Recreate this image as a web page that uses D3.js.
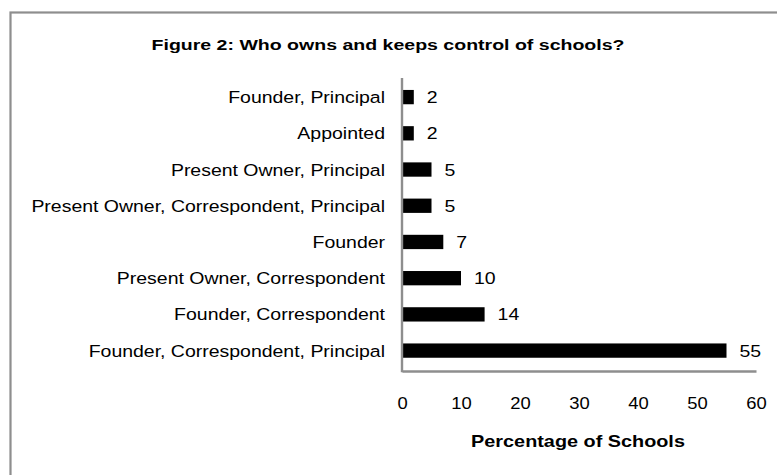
<!DOCTYPE html>
<html>
<head>
<meta charset="utf-8">
<script src="https://cdn.jsdelivr.net/npm/d3@7"></script>
<style>
  html, body { margin: 0; padding: 0; background: #fff; }
  svg text { font-family: "Liberation Sans", Arial, sans-serif; fill: #000; }
</style>
</head>
<body>
<svg id="chart" width="777" height="475"></svg>
<script>
// data, top to bottom
const categories = [
  'Founder, Principal',
  'Appointed',
  'Present Owner, Principal',
  'Present Owner, Correspondent, Principal',
  'Founder',
  'Present Owner, Correspondent',
  'Founder, Correspondent',
  'Founder, Correspondent, Principal'
];
const values = [2, 2, 5, 5, 7, 10, 14, 55];
const xTicks = [0, 10, 20, 30, 40, 50, 60];

const titleText = 'Figure 2: Who owns and keeps control of schools?';
const xTitle = 'Percentage of Schools';

// the source font is a stretched Arial, so text gets a horizontal scale
const stretch = 1.195;
const grey = '#8e8e8e';

const margin = { top: 78, right: 21, bottom: 104, left: 402 };
const svg = d3.select('#chart');
const width = +svg.attr('width');
const height = +svg.attr('height');
const axisY = height - margin.bottom;

// outer frame
svg.append('rect')
  .attr('x', 10.5)
  .attr('y', 12.5)
  .attr('width', width)
  .attr('height', height)
  .attr('fill', 'none')
  .attr('stroke', grey)
  .attr('stroke-width', 2.2);

const x = d3.scaleLinear()
  .domain([0, 60])
  .range([margin.left, width - margin.right]);

const y = d3.scaleBand()
  .domain(categories)
  .range([margin.top, axisY - 1.3])
  .paddingInner(0.605)
  .paddingOuter(0.33);

// bars
svg.append('g')
  .attr('fill', '#000')
  .selectAll('rect')
  .data(values)
  .enter().append('rect')
  .attr('x', x(0) + 1)
  .attr('y', (d, i) => y(categories[i]))
  .attr('width', d => x(d) - x(0) - 1)
  .attr('height', y.bandwidth());

// value labels
svg.append('g')
  .selectAll('text')
  .data(values)
  .enter().append('text')
  .attr('transform', (d, i) =>
    `translate(${x(d) + 13},${y(categories[i]) + y.bandwidth() / 2}) scale(${stretch},1)`)
  .attr('dy', '0.37em')
  .style('font-size', '16.3px')
  .text(d => d);

// category labels
svg.append('g')
  .selectAll('text')
  .data(categories)
  .enter().append('text')
  .attr('transform', d =>
    `translate(${margin.left - 17},${y(d) + y.bandwidth() / 2}) scale(${stretch},1)`)
  .attr('dy', '0.37em')
  .attr('text-anchor', 'end')
  .style('font-size', '16.3px')
  .text(d => d);

// x axis
const xAxis = svg.append('g')
  .attr('transform', `translate(0,${axisY})`)
  .call(d3.axisBottom(x).tickValues(xTicks).tickSize(0).tickPadding(26));
xAxis.select('.domain').attr('stroke', grey).attr('stroke-width', 2.4);
xAxis.selectAll('text')
  .attr('transform', `scale(1.13,1)`)
  .style('font-family', '"Liberation Sans", Arial, sans-serif')
  .style('font-size', '16.3px')
  .attr('fill', '#000');

// y axis line
svg.append('line')
  .attr('x1', margin.left)
  .attr('x2', margin.left)
  .attr('y1', margin.top)
  .attr('y2', axisY + 1.2)
  .attr('stroke', grey)
  .attr('stroke-width', 2.4);

// titles
svg.append('text')
  .attr('transform', `translate(388,50) scale(1.26,1)`)
  .attr('text-anchor', 'middle')
  .style('font-size', '15.5px')
  .style('font-weight', 'bold')
  .text(titleText);

svg.append('text')
  .attr('transform', `translate(578,447) scale(1.24,1)`)
  .attr('text-anchor', 'middle')
  .style('font-size', '16px')
  .style('font-weight', 'bold')
  .text(xTitle);
</script>
</body>
</html>
